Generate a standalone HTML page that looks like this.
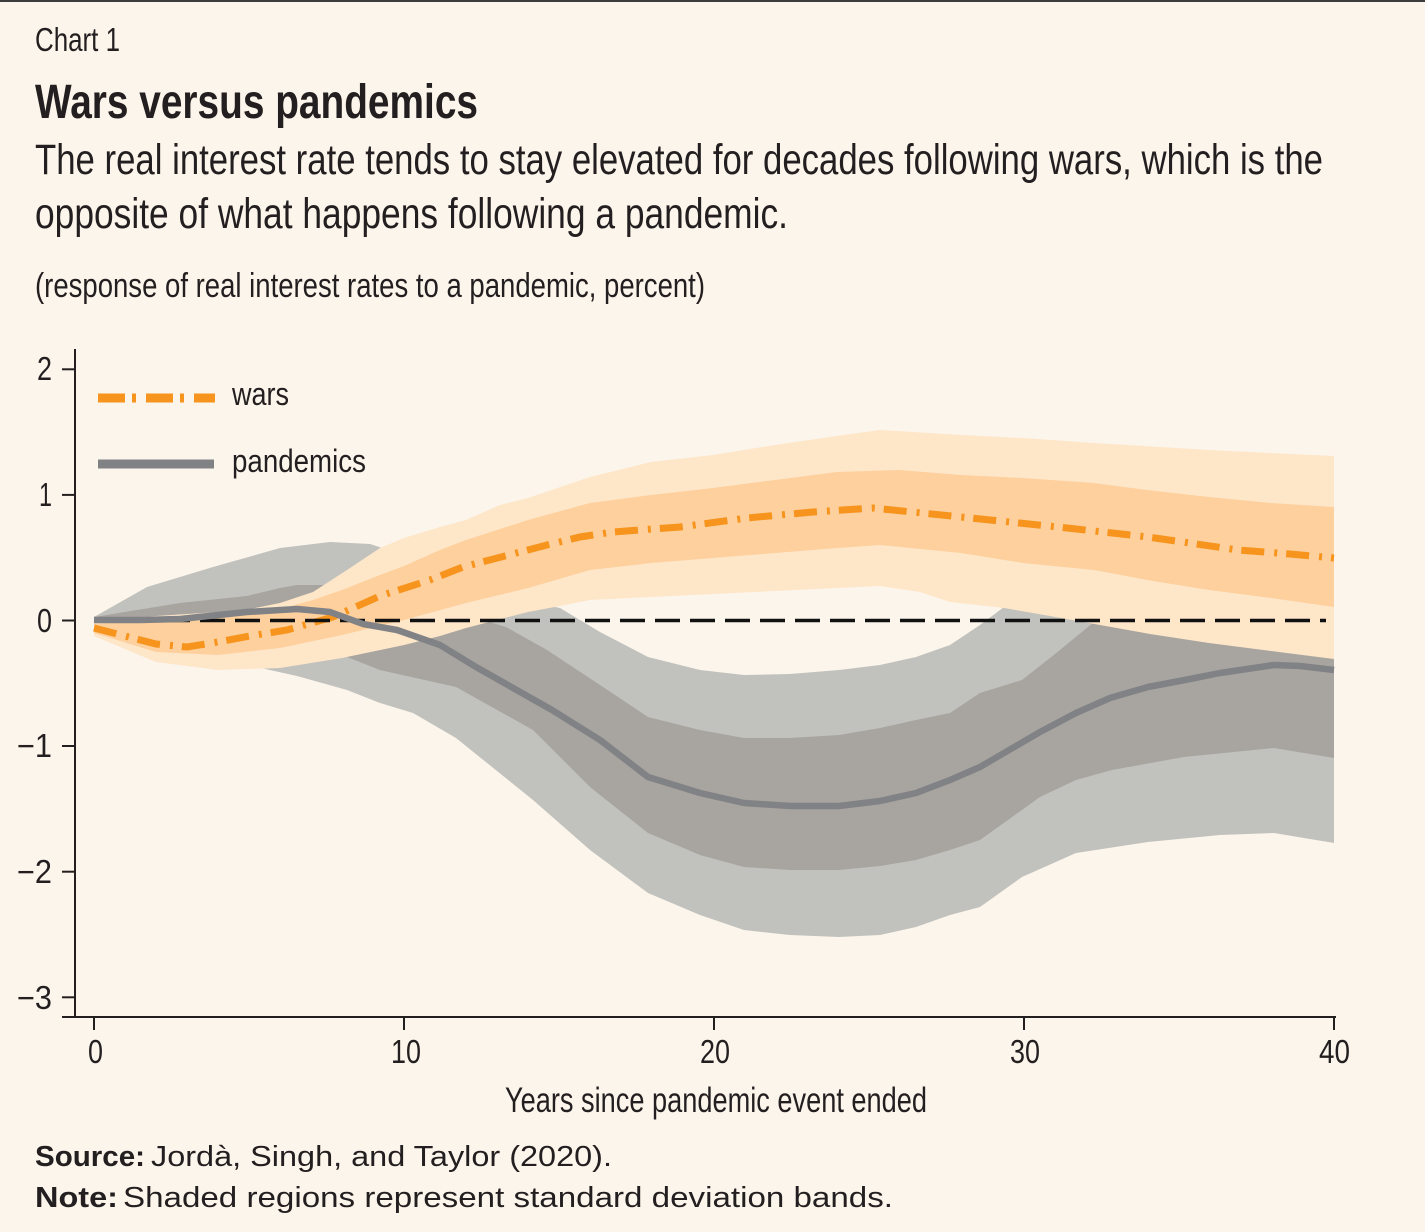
<!DOCTYPE html>
<html><head><meta charset="utf-8"><style>
html,body{margin:0;padding:0;background:#fcf5eb;}
svg{display:block;}
text{font-family:"Liberation Sans",sans-serif;fill:#231f20;}
</style></head><body>
<svg width="1425" height="1232" viewBox="0 0 1425 1232" xmlns="http://www.w3.org/2000/svg">
<rect x="0" y="0" width="1425" height="1232" fill="#fcf5eb"/>
<rect x="0" y="0" width="1425" height="2" fill="#3c3c3c"/>

<text x="35" y="51" font-size="33" textLength="85" lengthAdjust="spacingAndGlyphs">Chart 1</text>
<text x="35" y="118" font-size="48" font-weight="bold" textLength="443" lengthAdjust="spacingAndGlyphs">Wars versus pandemics</text>
<text x="35" y="174" font-size="43" textLength="1288" lengthAdjust="spacingAndGlyphs">The real interest rate tends to stay elevated for decades following wars, which is the</text>
<text x="35" y="228" font-size="43" textLength="753" lengthAdjust="spacingAndGlyphs">opposite of what happens following a pandemic.</text>
<text x="35" y="297" font-size="34" textLength="670" lengthAdjust="spacingAndGlyphs">(response of real interest rates to a pandemic, percent)</text>

<!-- light gray band -->
<polygon fill="#c1c2bd" points="94,617 147,587 213,567 280,548 330,542 370,544 404,555 440,570 480,588 520,600 560,608 600,632 648,657 700,670 744,675 790,674 839,670 880,665 916,657 950,645 980,625 1004,607 1030,603 1060,602 1100,612 1150,625 1200,635 1260,642 1334,648 1334,843 1274,833 1220,835 1148,842 1076,853 1022,877 980,907 950,915 916,927 880,935 839,937 790,935 744,930 700,915 648,893 590,850 533,800 456,738 413,713 380,703 347,690 297,676 247,665 180,650 94,624"/>
<!-- dark gray band -->
<polygon fill="#a8a5a0" points="94,617 180,603 247,596 280,588 297,585 340,585 404,600 466,615 506,627 547,650 600,685 648,717 700,730 744,738 790,738 839,735 880,728 916,720 950,713 980,693 1022,680 1060,650 1094,622 1150,615 1200,622 1260,632 1334,645 1334,758 1274,748 1184,757 1112,770 1076,780 1040,797 980,840 950,850 916,860 880,866 839,870 790,870 744,867 700,855 648,833 590,787 533,730 456,687 380,670 347,657 297,650 247,642 180,632 94,622"/>
<!-- light orange band -->
<polygon fill="#fee6c9" points="94,620 156,616 218,612 250,609 280,603 313,592 347,570 380,548 404,538 440,527 466,520 500,505 528,498 590,477 651,462 713,455 775,445 837,436 880,430 961,435 1023,438 1094,443 1209,450 1271,453 1334,456 1334,659 1271,651 1209,643 1150,634 1100,625 1050,616 1004,608 950,602 920,592 880,586 837,588 775,591 713,594 651,597 590,600 560,606 528,612 466,628 440,636 404,645 342,658 280,668 218,670 156,662 94,636"/>
<!-- dark orange band -->
<polygon fill="#fdd09d" points="94,624 156,620 218,617 280,609 313,600 342,590 380,575 404,566 440,550 466,540 528,520 590,503 651,495 713,488 775,480 837,472 899,470 961,475 1023,478 1094,483 1147,490 1209,497 1271,503 1334,507 1334,607 1271,598 1209,590 1147,580 1094,570 1023,563 961,553 880,545 837,548 775,553 713,558 651,563 590,570 528,588 466,603 404,620 342,635 280,648 218,655 156,652 94,633"/>

<!-- wars line -->
<polyline fill="none" stroke="#f7941d" stroke-width="7" stroke-dasharray="23 10 3 9" points="94,628 125,636 156,644 187,647 218,642 250,636 287,630 333,617 380,596 430,580 463,567 505,556 547,545 580,537 613,532 680,527 747,518 813,512 873,508 961,517 1058,527 1148,537 1238,550 1290,554 1334,558"/>
<!-- zero line -->
<line x1="95" y1="620.5" x2="1326" y2="620.5" stroke="#111" stroke-width="3.5" stroke-dasharray="25 10"/>
<!-- pandemic line -->
<polyline fill="none" stroke="#808285" stroke-width="6.5" stroke-linejoin="round" points="94,620 140,620 180,619 247,612 297,609 330,612 363,624 397,630 440,645 476,667 552,710 600,740 648,777 700,793 744,803 790,806 839,806 880,801 916,793 950,780 980,767 1004,753 1040,732 1076,713 1110,698 1148,687 1190,679 1220,673 1274,665 1300,666 1334,670"/>

<!-- axes -->
<g stroke="#231f20" stroke-width="2" fill="none">
<line x1="75" y1="349" x2="75" y2="1018"/>
<line x1="62" y1="1017" x2="1336" y2="1017"/>
<line x1="62" y1="369.3" x2="75" y2="369.3"/>
<line x1="62" y1="494.9" x2="75" y2="494.9"/>
<line x1="62" y1="620.5" x2="75" y2="620.5"/>
<line x1="62" y1="746" x2="75" y2="746"/>
<line x1="62" y1="871.7" x2="75" y2="871.7"/>
<line x1="62" y1="997.3" x2="75" y2="997.3"/>
<line x1="94" y1="1017" x2="94" y2="1030"/>
<line x1="404" y1="1017" x2="404" y2="1030"/>
<line x1="714" y1="1017" x2="714" y2="1030"/>
<line x1="1024" y1="1017" x2="1024" y2="1030"/>
<line x1="1334" y1="1017" x2="1334" y2="1030"/>
</g>

<!-- y labels -->
<g font-size="33" text-anchor="end">
<text x="52" y="380" textLength="15" lengthAdjust="spacingAndGlyphs">2</text>
<text x="52" y="506" textLength="13" lengthAdjust="spacingAndGlyphs">1</text>
<text x="52" y="632" textLength="15" lengthAdjust="spacingAndGlyphs">0</text>
<text x="52" y="757" textLength="35" lengthAdjust="spacingAndGlyphs">−1</text>
<text x="52" y="883" textLength="35" lengthAdjust="spacingAndGlyphs">−2</text>
<text x="52" y="1009" textLength="35" lengthAdjust="spacingAndGlyphs">−3</text>
</g>
<!-- x labels -->
<g font-size="33">
<text x="88" y="1063" textLength="15" lengthAdjust="spacingAndGlyphs">0</text>
<text x="391" y="1063" textLength="30" lengthAdjust="spacingAndGlyphs">10</text>
<text x="700" y="1063" textLength="30" lengthAdjust="spacingAndGlyphs">20</text>
<text x="1010" y="1063" textLength="30" lengthAdjust="spacingAndGlyphs">30</text>
<text x="1319" y="1063" textLength="31" lengthAdjust="spacingAndGlyphs">40</text>
</g>
<text x="505" y="1112" font-size="35" textLength="422" lengthAdjust="spacingAndGlyphs">Years since pandemic event ended</text>

<!-- legend -->
<line x1="98" y1="398" x2="215" y2="398" stroke="#f7941d" stroke-width="9" stroke-dasharray="27 7 4 10"/>
<text x="232" y="405" font-size="32" textLength="57" lengthAdjust="spacingAndGlyphs">wars</text>
<line x1="98" y1="464" x2="214" y2="464" stroke="#808285" stroke-width="9"/>
<text x="232" y="472" font-size="32" textLength="134" lengthAdjust="spacingAndGlyphs">pandemics</text>

<!-- source / note -->
<text x="35" y="1166" font-size="29" font-weight="bold" textLength="110" lengthAdjust="spacingAndGlyphs">Source:</text>
<text x="151" y="1166" font-size="29" textLength="461" lengthAdjust="spacingAndGlyphs">Jordà, Singh, and Taylor (2020).</text>
<text x="35" y="1207" font-size="29" font-weight="bold" textLength="83" lengthAdjust="spacingAndGlyphs">Note:</text>
<text x="123" y="1207" font-size="29" textLength="770" lengthAdjust="spacingAndGlyphs">Shaded regions represent standard deviation bands.</text>
</svg>
</body></html>
